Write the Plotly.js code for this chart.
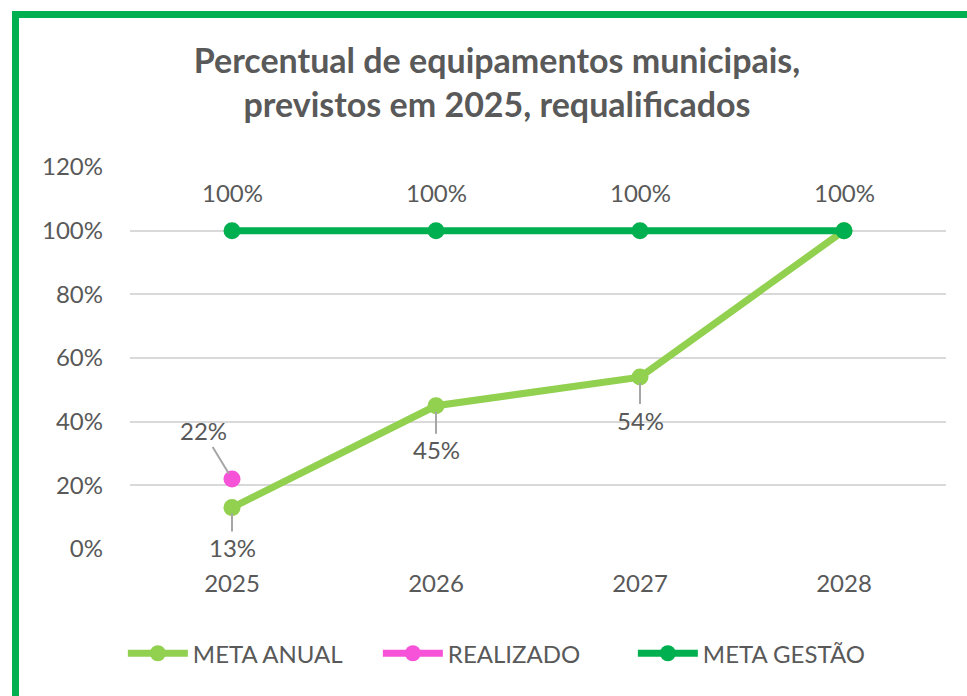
<!DOCTYPE html>
<html>
<head>
<meta charset="utf-8">
<script src="https://cdn.plot.ly/plotly-3.0.1.min.js"></script>
<style>
  html, body { margin: 0; padding: 0; background: #ffffff; }
  #chart { width: 967px; height: 696px; position: absolute; left: 0; top: 0; }
  #frame { position: absolute; left: 12px; top: 11px; width: 1100px; height: 1000px;
           border-left: 7px solid #00b050; border-top: 7px solid #00b050; pointer-events: none; }
</style>
</head>
<body>
<div id="chart"></div>
<div id="frame"></div>
<script>
const categories = ['2025', '2026', '2027', '2028'];
const metaAnual = [0.13, 0.45, 0.54, 1.00];
const realizadoCats = ['2025'];
const realizado = [0.22];
const metaGestao = [1.00, 1.00, 1.00, 1.00];
const yTickVals = [0, 0.2, 0.4, 0.6, 0.8, 1.0, 1.2];
const yTickText = ['0%', '20%', '40%', '60%', '80%', '100%', '120%'];

const pct = v => Math.round(v * 100) + '%';
const FONT = 'Lato, "Open Sans", sans-serif';
const labelFont = { family: FONT, size: 24, color: '#595959' };

const traces = [
  {
    name: 'META ANUAL', x: categories, y: metaAnual, type: 'scatter', mode: 'lines+markers',
    line: { color: '#92d050', width: 7 }, marker: { color: '#92d050', size: 17 },
    hoverinfo: 'skip'
  },
  {
    name: 'REALIZADO', x: realizadoCats, y: realizado, type: 'scatter', mode: 'lines+markers',
    line: { color: '#f653d8', width: 7 }, marker: { color: '#f653d8', size: 17 },
    hoverinfo: 'skip'
  },
  {
    name: 'META GESTÃO', x: categories, y: metaGestao, type: 'scatter', mode: 'lines+markers',
    line: { color: '#00b050', width: 7 }, marker: { color: '#00b050', size: 17 },
    hoverinfo: 'skip'
  }
];

const catIndex = c => categories.indexOf(c);
const annotations = [];
const anualOffsets = [40, 44, 43, 0];
metaAnual.forEach((v, i) => {
  if (i === 3) return; // 2028 shares the 100% label of META GESTÃO
  annotations.push({
    x: catIndex(categories[i]), y: v, xref: 'x', yref: 'y', text: pct(v),
    showarrow: true, arrowhead: 0, arrowwidth: 2, arrowcolor: '#a6a6a6',
    ax: 0, ay: anualOffsets[i], standoff: 6, font: labelFont
  });
});
realizado.forEach((v, i) => {
  annotations.push({
    x: catIndex(realizadoCats[i]), y: v, xref: 'x', yref: 'y', text: pct(v),
    showarrow: true, arrowhead: 0, arrowwidth: 2, arrowcolor: '#a6a6a6',
    ax: -29, ay: -48, standoff: 6, font: labelFont
  });
});
metaGestao.forEach((v, i) => {
  annotations.push({
    x: catIndex(categories[i]), y: v, xref: 'x', yref: 'y', text: pct(v),
    showarrow: false, yshift: 38, font: labelFont
  });
});

const layout = {
  width: 967, height: 696,
  paper_bgcolor: '#ffffff', plot_bgcolor: '#ffffff',
  margin: { l: 130, r: 21, t: 167, b: 147 },
  title: {
    text: 'Percentual de equipamentos municipais,<br>previstos em 2025, requalificados',
    font: { family: FONT, size: 34, color: '#595959', weight: 'bold' },
    x: 0.514, xanchor: 'center', y: 0.895, yanchor: 'top'
  },
  xaxis: {
    type: 'category', range: [-0.5, 3.5], showgrid: false, zeroline: false,
    showline: false, ticks: '', tickfont: labelFont, ticklabelstandoff: 18, fixedrange: true
  },
  yaxis: {
    range: [0, 1.2], tickvals: yTickVals, ticktext: yTickText,
    showgrid: true, gridcolor: '#d9d9d9', gridwidth: 2, zeroline: false, showline: false,
    ticks: '', tickfont: labelFont, ticklabelstandoff: 26, fixedrange: true
  },
  showlegend: true,
  legend: {
    orientation: 'h', x: 0.46, xanchor: 'center', y: -0.215, yanchor: 'top',
    font: labelFont, itemwidth: 60, traceorder: 'normal', entrywidth: 180
  },
  annotations: annotations
};

Plotly.newPlot('chart', traces, layout, { displayModeBar: false, staticPlot: true });
</script>
</body>
</html>
